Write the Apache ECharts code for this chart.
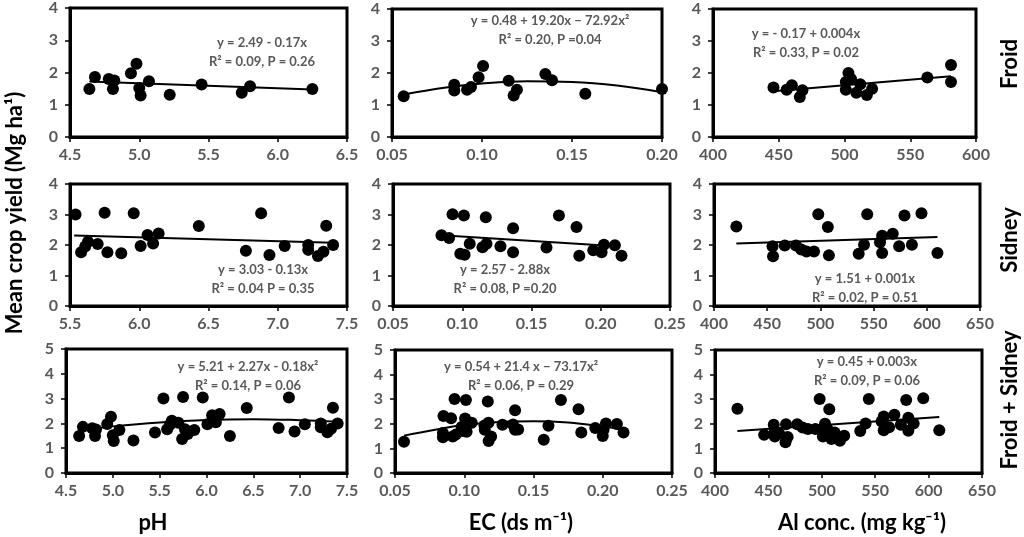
<!DOCTYPE html>
<html>
<head>
<meta charset="utf-8">
<script src="https://cdn.jsdelivr.net/npm/echarts@6/dist/echarts.min.js"></script>
<style>
  html, body { margin: 0; padding: 0; background: #fff; }
  #chart { width: 1024px; height: 537px; }
</style>
</head>
<body>
<div id="chart"></div>
<script>
// site data: [x, mean yield]
const froidPh = [[4.64,1.49],[4.68,1.86],[4.78,1.80],[4.81,1.49],[4.82,1.75],[4.94,1.98],[4.98,2.27],[5.00,1.52],[5.01,1.29],[5.07,1.73],[5.22,1.31],[5.45,1.63],[5.74,1.37],[5.80,1.57],[6.25,1.49]];
const froidEc = [[0.0565,1.27],[0.0846,1.63],[0.0846,1.45],[0.0917,1.48],[0.0939,1.56],[0.0981,1.87],[0.1006,2.22],[0.1148,1.76],[0.1176,1.30],[0.1194,1.48],[0.1352,1.97],[0.1389,1.77],[0.1574,1.35],[0.2,1.50]];
const froidAl = [[446,1.55],[456,1.48],[460,1.62],[468,1.46],[466,1.25],[501,1.72],[501,1.48],[503,2.00],[505,1.81],[509,1.38],[512,1.65],[517,1.31],[521,1.51],[563,1.86],[581,2.25],[581,1.72]];
const sidneyPh = [[5.54,3.00],[5.58,1.76],[5.61,1.95],[5.63,2.11],[5.70,2.03],[5.75,3.06],[5.77,1.76],[5.87,1.73],[5.96,3.04],[6.01,1.97],[6.06,2.33],[6.10,2.05],[6.14,2.38],[6.43,2.62],[6.77,1.81],[6.88,3.04],[6.94,1.67],[7.05,1.97],[7.22,2.00],[7.22,1.84],[7.29,1.64],[7.33,1.78],[7.35,2.63],[7.40,2.00]];
const sidneyEc = [[0.085,2.32],[0.0905,2.23],[0.093,3.01],[0.0986,1.71],[0.1012,2.97],[0.1017,1.68],[0.1054,2.04],[0.1146,1.93],[0.117,2.91],[0.1175,2.04],[0.1276,1.96],[0.1367,2.55],[0.1367,1.76],[0.1608,1.92],[0.1698,2.97],[0.1825,2.59],[0.1845,1.65],[0.1946,1.83],[0.2006,1.76],[0.2023,2.01],[0.2102,1.99],[0.215,1.65]];
const sidneyAl = [[421,2.61],[455,1.96],[455.5,1.63],[466.5,1.98],[477,1.98],[482,1.85],[487,1.79],[494,1.79],[498,3.01],[507,2.59],[508,1.66],[536,1.71],[541,2.01],[544,3.01],[556,2.09],[558,2.30],[558,1.74],[568,2.37],[574,1.96],[579,2.97],[586,2.01],[595,3.04],[610,1.74]];

// fitted lines, points
const fitFroidPh = [[4.64,1.72],[6.25,1.47]];
const fitFroidEc = [[0.0565,1.33],[0.08,1.55],[0.10,1.67],[0.125,1.74],[0.15,1.72],[0.175,1.61],[0.20,1.40]];
const fitFroidAl = [[446,1.43],[581,1.90]];
const fitSidneyPh = [[5.53,2.31],[7.40,2.07]];
const fitSidneyEc = [[0.085,2.32],[0.20,1.99]];
const fitSidneyAl = [[421,2.05],[610,2.26]];
const fitBothPh = [[4.64,1.72],[5.0,1.88],[5.5,2.04],[6.0,2.14],[6.5,2.17],[7.0,2.13],[7.4,2.07]];
const fitBothEc = [[0.0565,1.52],[0.08,1.77],[0.10,1.95],[0.125,2.07],[0.15,2.10],[0.175,2.05],[0.20,1.89],[0.215,1.76]];
const fitBothAl = [[421,1.71],[610,2.28]];

// equations printed in each panel
const equations = [
  ['y = 2.49 - 0.17x', 'R² = 0.09, P = 0.26'],
  ['y = 0.48 + 19.20x − 72.92x²', 'R² = 0.20, P =0.04'],
  ['y = - 0.17 + 0.004x', 'R² = 0.33, P = 0.02'],
  ['y = 3.03 - 0.13x', 'R² = 0.04 P = 0.35'],
  ['y = 2.57 - 2.88x', 'R² = 0.08, P =0.20'],
  ['y = 1.51 + 0.001x', 'R² = 0.02, P = 0.51'],
  ['y = 5.21 + 2.27x - 0.18x²', 'R² = 0.14, P = 0.06'],
  ['y = 0.54 + 21.4 x − 73.17x²', 'R² = 0.06, P = 0.29'],
  ['y = 0.45 + 0.003x', 'R² = 0.09, P = 0.06']
];

// x axis [min, max, step] per panel, y max per row
const xAxes = [
  [4.5, 6.5, 0.5], [0.05, 0.20, 0.05], [400, 600, 50],
  [5.5, 7.5, 0.5], [0.05, 0.25, 0.05], [400, 650, 50],
  [4.5, 7.5, 0.5], [0.05, 0.25, 0.05], [400, 650, 50]
];
const yMax = [4, 4, 5];
const rowNames = ['Froid', 'Sidney', 'Froid + Sidney'];
const colNames = ['pH', 'EC (ds m⁻¹)', 'Al conc. (mg kg⁻¹)'];

const both = (a, b) => a.concat(b);
const points = [froidPh, froidEc, froidAl, sidneyPh, sidneyEc, sidneyAl,
  both(froidPh, sidneyPh), both(froidEc, sidneyEc), both(froidAl, sidneyAl)];
const fits = [fitFroidPh, fitFroidEc, fitFroidAl, fitSidneyPh, fitSidneyEc, fitSidneyAl, fitBothPh, fitBothEc, fitBothAl];
const curved = [false, true, false, false, false, false, true, true, false];

// plot boxes [left, top, width, height]
const boxes = [
  [70, 8, 277, 129], [392, 9, 270, 128], [713, 9, 263, 128],
  [70, 184, 277, 122], [393, 184, 277, 122], [714, 184, 266, 122],
  [66, 349, 281, 124], [395, 350, 277, 123], [715, 350, 267, 123]
];
// equation text centres
const eqPos = [
  [262, 43], [550, 21], [806, 34],
  [263, 270], [505, 270], [865, 279],
  [248, 367], [521, 367], [867, 362]
];

const grey = '#595959';
const tickFont = { color: grey, fontSize: 16, fontWeight: 'bold', fontFamily: 'Lato' };
const decimals = [1, 2, 0];

const grid = [], xAxis = [], yAxis = [], series = [], graphic = [];
boxes.forEach((b, i) => {
  grid.push({ left: b[0], top: b[1], width: b[2], height: b[3], show: true,
    borderColor: '#000', borderWidth: 3, backgroundColor: 'transparent' });
  const xa = xAxes[i];
  xAxis.push({
    type: 'value', gridIndex: i, min: xa[0], max: xa[1], interval: xa[2],
    axisLine: { onZero: false, lineStyle: { color: '#000', width: 3 } },
    axisTick: { show: true, inside: false, length: 5, lineStyle: { color: '#000', width: 1.5 } },
    splitLine: { show: false },
    axisLabel: Object.assign({ margin: 10, formatter: v => v.toFixed(decimals[i % 3]) }, tickFont)
  });
  yAxis.push({
    type: 'value', gridIndex: i, min: 0, max: yMax[Math.floor(i / 3)], interval: 1,
    axisLine: { lineStyle: { color: '#000', width: 3 } },
    axisTick: { show: true, inside: false, length: 5, lineStyle: { color: '#000', width: 1.5 } },
    splitLine: { show: false },
    axisLabel: Object.assign({ margin: 12 }, tickFont)
  });
  series.push({
    type: 'scatter', xAxisIndex: i, yAxisIndex: i, data: points[i],
    symbolSize: 12, itemStyle: { color: '#000', opacity: 1 }, z: 3
  });
  series.push({
    type: 'line', xAxisIndex: i, yAxisIndex: i, data: fits[i],
    smooth: curved[i] ? 0.4 : false, symbol: 'none',
    lineStyle: { color: '#000', width: 2 }, z: 2
  });
  const p = eqPos[i];
  graphic.push({ type: 'text', x: p[0], y: p[1], z: 10,
    style: { text: equations[i][0], fill: grey, font: 'bold 13px Lato', textAlign: 'center', textVerticalAlign: 'middle' } });
  graphic.push({ type: 'text', x: p[0], y: p[1] + 19, z: 10,
    style: { text: equations[i][1], fill: grey, font: 'bold 13px Lato', textAlign: 'center', textVerticalAlign: 'middle' } });
});

// axis titles
graphic.push({ type: 'text', x: 15, y: 213, rotation: Math.PI / 2,
  style: { text: 'Mean crop yield (Mg ha¹)', fill: '#000', font: 'bold 22px Lato', textAlign: 'center', textVerticalAlign: 'middle' } });
[[153, 523], [521, 523], [862, 523]].forEach((p, i) => {
  graphic.push({ type: 'text', x: p[0], y: p[1],
    style: { text: colNames[i], fill: '#000', font: 'bold 22px Lato', textAlign: 'center', textVerticalAlign: 'middle' } });
});
[[1010, 64], [1010, 240], [1010, 400]].forEach((p, i) => {
  graphic.push({ type: 'text', x: p[0], y: p[1], rotation: Math.PI / 2,
    style: { text: rowNames[i], fill: '#000', font: 'bold 22px Lato', textAlign: 'center', textVerticalAlign: 'middle' } });
});

const chart = echarts.init(document.getElementById('chart'));
chart.setOption({ animation: false, backgroundColor: '#fff', grid, xAxis, yAxis, series, graphic });
</script>
</body>
</html>
